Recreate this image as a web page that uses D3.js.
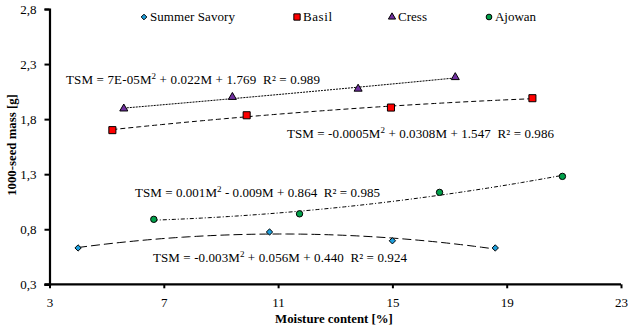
<!DOCTYPE html>
<html><head><meta charset="utf-8">
<script src="https://cdn.jsdelivr.net/npm/d3@7"></script>
<style>body{margin:0;background:#fff}svg{display:block}</style>
</head><body><svg id="c" width="633" height="331"></svg>
<script>
const xTicks = [3, 7, 11, 15, 19, 23];
const yTicks = [0.3, 0.8, 1.3, 1.8, 2.3, 2.8];
const seriesNames = ["Summer Savory", "Basil", "Cress", "Ajowan"];
const savoryX = [4.0, 10.7, 15.0, 18.6];
const savoryY = [0.63, 0.775, 0.695, 0.63];
const basilX = [5.2, 9.9, 14.95, 19.9];
const basilY = [1.70, 1.835, 1.905, 1.99];
const cressX = [5.6, 9.4, 13.8, 17.2];
const cressY = [1.895, 2.0, 2.075, 2.18];
const ajowanX = [6.65, 11.75, 16.65, 20.95];
const ajowanY = [0.89, 0.94, 1.135, 1.28];
const equations = [
  ["TSM = -0.003M", "2", " + 0.056M + 0.440  R² = 0.924"],
  ["TSM = -0.0005M", "2", " + 0.0308M + 1.547  R² = 0.986"],
  ["TSM = 7E-05M", "2", " + 0.022M + 1.769  R² = 0.989"],
  ["TSM = 0.001M", "2", " - 0.009M + 0.864  R² = 0.985"]
];

const FONT = "Liberation Serif";
const svg = d3.select("#c");
const x = d3.scaleLinear().domain([3, 23]).range([49.5, 621]);
const y = d3.scaleLinear().domain([0.3, 2.8]).range([284.3, 9]);

const diamond = {draw(ctx, size) { const r = Math.sqrt(size) / Math.SQRT2; ctx.moveTo(0, -r); ctx.lineTo(r, 0); ctx.lineTo(0, r); ctx.lineTo(-r, 0); ctx.closePath(); }};

const series = [
  {name: seriesNames[0], xs: savoryX, ys: savoryY, sym: diamond, size: 20, fill: "#1E9FDC", dash: "9,4", eq: equations[0], ex: 153, ey: 262, ew: 254, lw: 85},
  {name: seriesNames[1], xs: basilX, ys: basilY, sym: d3.symbolSquare, size: 50, fill: "#FF0000", dash: "5,3", eq: equations[1], ex: 287, ey: 138, ew: 267, lw: 29},
  {name: seriesNames[2], xs: cressX, ys: cressY, sym: d3.symbolTriangle, size: 28, fill: "#7030A0", dash: "2,1", eq: equations[2], ex: 66, ey: 84, ew: 254, lw: 29},
  {name: seriesNames[3], xs: ajowanX, ys: ajowanY, sym: d3.symbolCircle, size: 32, fill: "#00A04A", dash: "4,2,1,2", eq: equations[3], ex: 135, ey: 197, ew: 245, lw: 41}
];

function quadFit(xs, ys) {
  let S = [[0,0,0],[0,0,0],[0,0,0]], T = [0,0,0];
  xs.forEach((xv, i) => {
    const p = [1, xv, xv*xv];
    for (let r = 0; r < 3; r++) { T[r] += p[r]*ys[i]; for (let c = 0; c < 3; c++) S[r][c] += p[r]*p[c]; }
  });
  const A = S.map((row, i) => row.concat([T[i]]));
  for (let i = 0; i < 3; i++) {
    let m = i; for (let k = i+1; k < 3; k++) if (Math.abs(A[k][i]) > Math.abs(A[m][i])) m = k;
    [A[i], A[m]] = [A[m], A[i]];
    for (let k = i+1; k < 3; k++) { const f = A[k][i]/A[i][i]; for (let j = i; j < 4; j++) A[k][j] -= f*A[i][j]; }
  }
  const sol = [0,0,0];
  for (let i = 2; i >= 0; i--) { let s = A[i][3]; for (let j = i+1; j < 3; j++) s -= A[i][j]*sol[j]; sol[i] = s/A[i][i]; }
  return sol;
}

series.forEach(s => {
  const [a, b, c] = quadFit(s.xs, s.ys);
  const x0 = d3.min(s.xs), x1 = d3.max(s.xs);
  const pts = d3.range(0, 61).map(i => { const xv = x0 + (x1 - x0) * i / 60; return [x(xv), y(a + b*xv + c*xv*xv)]; });
  svg.append("path").attr("d", d3.line()(pts)).attr("fill", "none").attr("stroke", "#000").attr("stroke-width", 1).attr("stroke-dasharray", s.dash);
});

const xAxis = svg.append("g").attr("transform", `translate(0,${y(0.3)})`).call(d3.axisBottom(x).tickValues(xTicks).tickSize(4).tickPadding(4).tickFormat(d3.format("d")));
const yAxis = svg.append("g").attr("transform", `translate(${x(3)},0)`).call(d3.axisLeft(y).tickValues(yTicks).tickSize(5).tickPadding(8).tickFormat(d => d.toFixed(1).replace(".", ",")));
[xAxis, yAxis].forEach(g => {
  g.attr("font-family", FONT).attr("font-size", 13);
  g.select(".domain").attr("stroke", "#000").attr("stroke-width", 2.2);
  g.selectAll(".tick line").attr("stroke", "#000").attr("stroke-width", 2);
  g.selectAll(".tick text").style("font-family", FONT).attr("font-size", 13).attr("fill", "#000");
});
xAxis.select(".domain").attr("d", `M${x(3)-5},0H${x(23)}`);
xAxis.selectAll(".tick text").attr("dy", "1.1em");

series.forEach(s => {
  svg.append("g").selectAll("path").data(s.xs.map((xv, i) => [xv, s.ys[i]])).join("path")
    .attr("transform", d => `translate(${x(d[0])},${y(d[1])})`)
    .attr("d", d3.symbol(s.sym, s.size)).attr("fill", s.fill).attr("stroke", "#000").attr("stroke-width", 1);
});

series.forEach(s => {
  const t = svg.append("text").attr("x", s.ex).attr("y", s.ey).attr("font-size", 13).style("font-family", FONT).style("white-space", "pre").attr("fill", "#000")
    .attr("textLength", s.ew).attr("lengthAdjust", "spacing");
  t.append("tspan").text(s.eq[0]);
  t.append("tspan").attr("dy", -5).attr("font-size", 9).text(s.eq[1]);
  t.append("tspan").attr("dy", 5).text(s.eq[2]);
});

const legX = [144, 297, 392, 489];
series.forEach((s, i) => {
  svg.append("path").attr("transform", `translate(${legX[i]},${17})`).attr("d", d3.symbol(s.sym, s.size*0.8)).attr("fill", s.fill).attr("stroke", "#000").attr("stroke-width", 1);
  svg.append("text").attr("x", legX[i] + 6).attr("y", 21).attr("font-size", 13).style("font-family", FONT)
    .attr("textLength", s.lw).attr("lengthAdjust", "spacing").text(s.name);
});

svg.append("text").attr("x", 334).attr("y", 323).attr("text-anchor", "middle").attr("font-weight", "bold").attr("font-size", 12.8).style("font-family", FONT).text("Moisture content [%]");
svg.append("text").attr("transform", "translate(16,145) rotate(-90)").attr("text-anchor", "middle").attr("font-weight", "bold").attr("font-size", 12.8).style("font-family", FONT).text("1000-seed mass [g]");
</script></body></html>
